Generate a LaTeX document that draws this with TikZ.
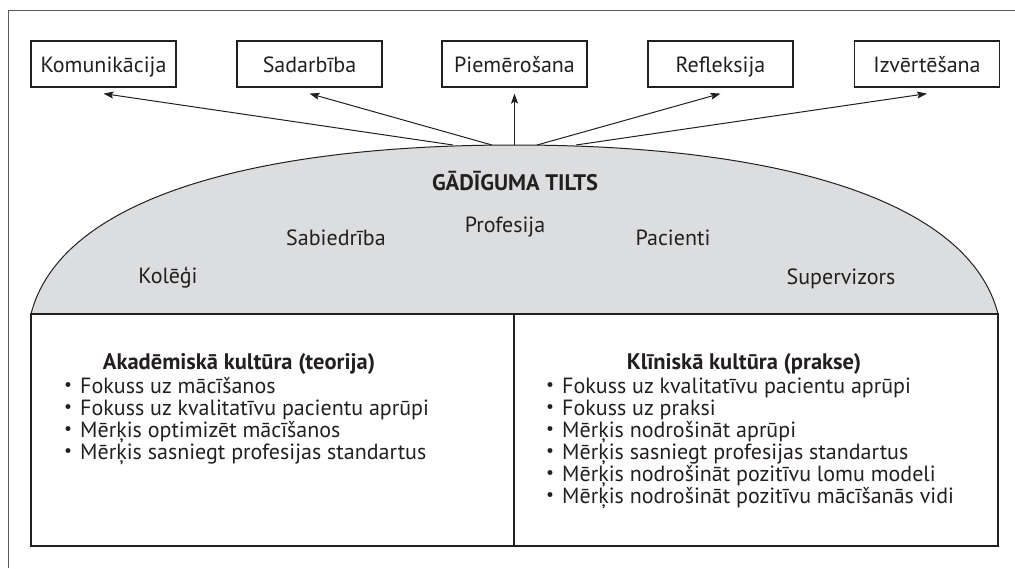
\documentclass[tikz,border=0pt]{standalone}
\usepackage{fontspec}
\setmainfont{PT Sans}
\usetikzlibrary{arrows.meta}
\definecolor{ink}{HTML}{231F20}
\definecolor{domefill}{HTML}{DCDDDF}
\definecolor{framegray}{HTML}{58595B}
\newcommand{\smallbullet}{\raisebox{0.12em}{\scalebox{0.8}{•}}}
\begin{document}
\begin{tikzpicture}[x=1pt,y=-1pt,
  txt/.style={text=ink, inner sep=0pt, font=\fontsize{22}{22}\selectfont},
  labelbox/.style={draw=ink, line width=1.2pt, minimum width=145pt, minimum height=46pt,
    inner sep=0pt, text=ink, font=\fontsize{22}{22}\selectfont, text height=20pt, text depth=4pt},
  arr/.style={draw=ink, line width=1pt, -{Stealth[length=10pt,width=7pt,inset=2pt]}},
  panel/.style={draw=ink, line width=1.2pt, minimum height=232pt, inner sep=0pt},
  head/.style={txt, font=\fontsize{22.5}{22}\selectfont\bfseries, anchor=base},
  item/.style={txt, anchor=base west}
]
\useasboundingbox (0,0) rectangle (1015,568);

% outer frame
\draw[framegray, line width=1pt] (8,568) -- (8,10) -- (1015,10);

% top row of outcome boxes
\node[labelbox] (kom) at (103.5,64) {Komunikācija};
\node[labelbox] (sad) at (309.5,64) {Sadarbība};
\node[labelbox] (pie) at (514.5,64) {Piemērošana};
\node[labelbox] (ref) at (720.5,64) {Refleksija};
\node[labelbox] (izv) at (927,64) {Izvērtēšana};

% the bridge
\draw[ink, line width=1pt, fill=domefill]
  (31,314) .. controls (60,200) and (250,145) .. (514.5,145)
  .. controls (779,145) and (969,200) .. (998,314) -- cycle;

% arrow origins on top of the bridge
\coordinate (o1) at (453,145);
\coordinate (o2) at (492,145);
\coordinate (o3) at (514.5,145);
\coordinate (o4) at (537,145);
\coordinate (o5) at (576,145);

\draw[arr] (o1) -- ([yshift=-6pt]kom.south);
\draw[arr] (o2) -- ([yshift=-6pt]sad.south);
\draw[arr] (o3) -- ([yshift=-6pt]pie.south);
\draw[arr] (o4) -- ([yshift=-6pt]ref.south);
\draw[arr] (o5) -- ([yshift=-6pt]izv.south);

% labels inside the bridge
\node[head] (title) at (515,190) {GĀDĪGUMA TILTS};
\node[txt, anchor=base] (prof) at (505,232) {Profesija};
\node[txt, anchor=base] (sab) at (336,245) {Sabiedrība};
\node[txt, anchor=base] (pac) at (673,245) {Pacienti};
\node[txt, anchor=base] (kol) at (168,283) {Kolēģi};
\node[txt, anchor=base] (sup) at (841,284) {Supervizors};

% the two cultures
\node[panel, minimum width=483pt] (acad) at (272.5,430) {};
\node[panel, minimum width=484pt] (klin) at (756,430) {};

\node[head] (acadh) at (239,369) {Akadēmiskā kultūra (teorija)};
\node[head] (klinh) at (744,369) {Klīniskā kultūra (prakse)};

\foreach \t [count=\i] in {Fokuss uz mācīšanos,
    Fokuss uz kvalitatīvu pacientu aprūpi,
    Mērķis optimizēt mācīšanos,
    Mērķis sasniegt profesijas standartus}
  \node[item] (a\i) at (64,{393+22*(\i-1)}) {\makebox[16pt][l]{\smallbullet}\t};

\foreach \t [count=\i] in {Fokuss uz kvalitatīvu pacientu aprūpi,
    Fokuss uz praksi,
    Mērķis nodrošināt aprūpi,
    Mērķis sasniegt profesijas standartus,
    Mērķis nodrošināt pozitīvu lomu modeli,
    Mērķis nodrošināt pozitīvu mācīšanās vidi}
  \node[item] (k\i) at (546,{393+22*(\i-1)}) {\makebox[16pt][l]{\smallbullet}\t};
\end{tikzpicture}
\end{document}
